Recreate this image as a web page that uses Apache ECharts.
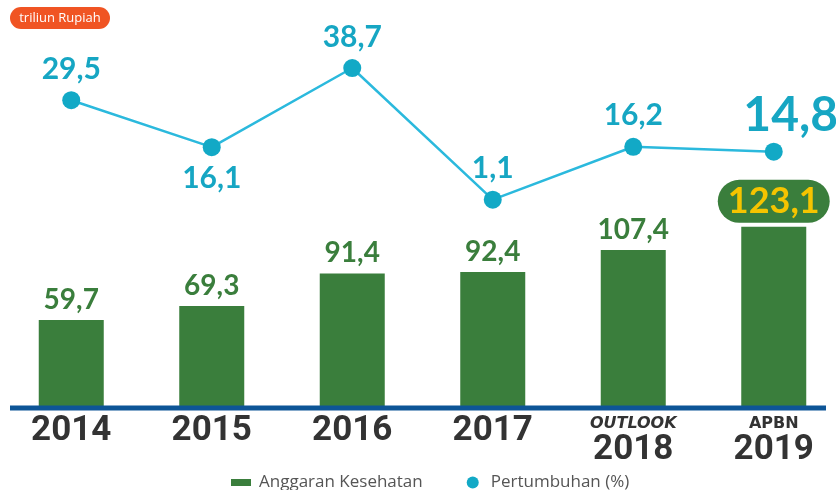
<!DOCTYPE html>
<html>
<head>
<meta charset="utf-8">
<script src="https://cdn.jsdelivr.net/npm/echarts@6/dist/echarts.min.js"></script>
<style>
  html, body { margin: 0; padding: 0; background: #fff; }
  #chart { width: 836px; height: 490px; }
</style>
</head>
<body>
<div id="chart"></div>
<script>
// Health budget (trillion rupiah) and its annual growth (%)
const years = ['2014', '2015', '2016', '2017', '2018', '2019'];
const yearNotes = ['', '', '', '', 'OUTLOOK', 'APBN'];
const budget = [59.7, 69.3, 91.4, 92.4, 107.4, 123.1];
const growth = [29.5, 16.1, 38.7, 1.1, 16.2, 14.8];
const growthLabelPos = ['top', 'bottom', 'top', 'top', 'top', 'top'];

const GREEN = '#3a7e3c';
const CYAN_LINE = '#2bb9dd';
const CYAN_DOT = '#12a9c6';
const CYAN_TEXT = '#16a6c3';
const NUM_FONT = 'Lato';

const fmt = v => String(v).replace('.', ',');

const barData = budget.map((v, i) => {
  const item = { value: v };
  if (i === budget.length - 1) {
    // highlighted budget figure in a pill
    item.label = {
      color: '#f5c400',
      fontSize: 36,
      lineHeight: 35,
      backgroundColor: GREEN,
      borderRadius: 22,
      padding: [4, 10, 4, 10],
      distance: 4
    };
  }
  return item;
});

const lineData = growth.map((v, i) => {
  const item = { value: v, label: { position: growthLabelPos[i] } };
  if (i === growth.length - 1) {
    item.label.fontSize = 48;
    item.label.offset = [17, 0];
    item.label.distance = 3;
  }
  return item;
});

const chart = echarts.init(document.getElementById('chart'), null, { renderer: 'canvas' });

chart.setOption({
  animation: false,
  backgroundColor: '#ffffff',
  grid: { left: 1, width: 843, top: 40, bottom: 82, outerBoundsMode: 'none' },
  legend: {
    left: 231,
    top: 474,
    padding: 0,
    itemWidth: 20,
    itemHeight: 12,
    itemGap: 44,
    textStyle: { fontSize: 17, color: '#555', fontFamily: 'Open Sans', padding: [0, 0, 0, 3] },
    data: [
      { name: 'Anggaran Kesehatan', icon: 'path://M0,0H20V7H0Z' },
      { name: 'Pertumbuhan (%)', icon: 'circle' }
    ]
  },
  xAxis: {
    type: 'category',
    data: years,
    axisLine: { show: false },
    axisTick: { show: false },
    axisLabel: {
      margin: 6,
      interval: 0,
      formatter: (v, i) => {
        if (yearNotes[i] === 'OUTLOOK') return '{ni|' + yearNotes[i] + '}\n{y|' + v + '}';
        if (yearNotes[i]) return '{n|' + yearNotes[i] + '}\n{y|' + v + '}';
        return '{y|' + v + '}';
      },
      rich: {
        y: { fontFamily: 'Roboto', fontWeight: 'bold', fontSize: 35, lineHeight: 35, color: '#333' },
        n: { fontFamily: 'DejaVu Sans', fontWeight: 'bold', fontSize: 16, lineHeight: 19, color: '#333' },
        ni: { fontFamily: 'DejaVu Sans', fontWeight: 'bold', fontStyle: 'italic', fontSize: 16, lineHeight: 19, color: '#333' }
      }
    }
  },
  yAxis: [
    { type: 'value', min: 0, max: 250, show: false },
    { type: 'value', min: -58.4, max: 46.7, show: false }
  ],
  series: [
    {
      name: 'Anggaran Kesehatan',
      type: 'bar',
      yAxisIndex: 0,
      barWidth: 65,
      itemStyle: { color: GREEN },
      label: {
        show: true,
        position: 'top',
        distance: 6,
        fontFamily: NUM_FONT,
        fontWeight: 'bold',
        fontSize: 28,
        color: GREEN,
        formatter: p => fmt(p.value)
      },
      data: barData
    },
    {
      name: 'Pertumbuhan (%)',
      type: 'line',
      yAxisIndex: 1,
      symbol: 'circle',
      symbolSize: 18,
      z: 5,
      lineStyle: { color: CYAN_LINE, width: 2.5 },
      itemStyle: { color: CYAN_DOT },
      label: {
        show: true,
        distance: 7,
        fontFamily: NUM_FONT,
        fontWeight: 'bold',
        fontSize: 30,
        color: CYAN_TEXT,
        formatter: p => fmt(p.value)
      },
      data: lineData
    }
  ],
  graphic: [
    {
      type: 'line',
      shape: { x1: 10, y1: 408, x2: 826, y2: 408 },
      style: { stroke: '#0d5597', lineWidth: 5 },
      z: 10
    },
    {
      type: 'group',
      left: 10,
      top: 7,
      children: [
        { type: 'rect', shape: { x: 0, y: 0, width: 100, height: 22, r: 11 }, style: { fill: '#f05423' } },
        {
          type: 'text',
          style: {
            x: 50, y: 11, text: 'triliun Rupiah', fill: '#fff',
            font: '13px "Open Sans"', align: 'center', verticalAlign: 'middle'
          }
        }
      ]
    }
  ]
});
</script>
</body>
</html>
